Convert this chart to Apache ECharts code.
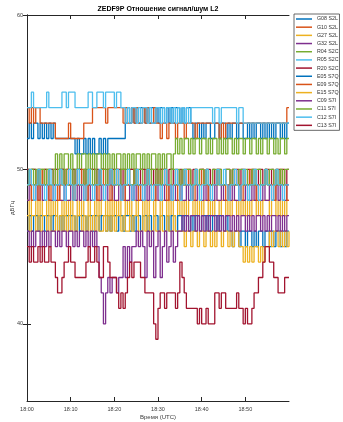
<!DOCTYPE html>
<html>
<head>
<meta charset="utf-8">
<script src="https://cdn.jsdelivr.net/npm/echarts@6/dist/echarts.min.js"></script>
<style>
  html, body { margin: 0; padding: 0; background: #fff; }
  #chart { width: 343px; height: 422px; }
</style>
</head>
<body>
<div id="chart"></div>
<script>
// C/N0 samples every 30 s from 18:00 UTC, dB-Hz
const startHour = 18;
const sampleStepMin = 0.5;

const seriesNames = ['G08 S2L', 'G10 S2L', 'G27 S2L', 'G32 S2L', 'R04 S2C', 'R05 S2C', 'R20 S2C',
                     'E05 S7Q', 'E09 S7Q', 'E15 S7Q', 'C09 S7I', 'C11 S7I', 'C12 S7I', 'C13 S7I'];

const g08 = [52,53,52,53,53,52,53,52,53,52, 53,52,53,52,52,52,52,52,52,52, 52,52,51,52,51,51,52,51,52,51,
             52,51,51,52,51,52,51,52,52,52, 52,52,52,52,52,53,54,53,54,53, 54,53,54,54,53,54,53,54,53,54,
             53,54,54,53,54,53,54,53,54,54, 53,54,53,54,54,53,52,53,53,52, 53,52,53,53,52,52,53,53,52,53,
             53,52,53,52,53,53,52,53,53,52, 52,53,52,53,52,53,53,52,53,52, 53,52,53,52,53,53,52,53,52,53, 53];
const g10 = [54,53,54,53,54,54,53,53,53,53, 53,53,53,52,52,52,52,52,52,53, 52,52,52,52,52,52,53,53,53,53,
             54,54,54,54,54,54,53,54,54,54, 54,54,54,54,53,54,53,53,54,53, 54,53,53,54,53,54,53,53,54,53,
             53,52,53,53,52,53,53,53,52,53, 53,53,52,53,53,53,53,52,53,53, 53,53,53,53,53,53,53,53,52,53,
             52,53,53,53,53,53,53,53,53,53, 53,53,53,53,53,53,53,53,53,53, 53,53,53,53,53,53,53,53,53,54, 54];
const g27 = [48,47,48,48,47,48,47,48,48,47, 48,47,48,47,48,48,47,48,47,48, 47,48,48,47,48,47,48,48,47,48,
             48,47,48,47,48,48,47,48,47,48, 47,48,47,48,48,47,48,47,48,48, 47,48,48,47,48,47,48,48,47,48,
             48,47,48,48,47,48,47,48,48,47, 48,47,48,47,48,48,47,48,47,48, 47,48,48,47,48,47,48,48,47,48,
             48,47,48,47,48,48,47,48,47,48, 47,48,47,48,48,47,48,47,48,48, 48,47,48,48,47,48,47,48,47,48, 48];
const g32 = [48,49,48,48,49,48,49,48,48,49, 48,48,49,48,49,48,48,49,48,48, 49,48,48,49,48,49,48,48,49,48,
             48,49,48,48,49,48,49,48,48,49, 48,48,49,48,49,48,48,49,48,49, 48,49,48,48,49,48,49,48,48,49,
             48,48,49,48,48,49,48,49,48,48, 49,48,48,49,48,49,48,48,49,48, 48,49,48,49,48,48,49,48,48,49,
             48,48,49,48,49,48,48,49,48,48, 49,48,48,49,48,49,48,48,49,48, 48,49,48,48,49,48,49,48,48,49, 49];
const r04 = [50,49,50,50,49,50,50,49,50,50, 50,50,50,51,50,51,50,51,51,50, 51,50,50,51,50,51,51,50,51,50,
             51,50,51,51,50,51,50,51,50,51, 50,51,51,50,51,50,51,50,51,50, 51,51,50,51,50,51,50,51,51,50,
             51,50,51,50,51,51,50,51,52,51, 52,51,52,52,51,52,51,52,52,51, 52,52,51,52,51,52,52,51,52,51,
             52,51,52,52,51,52,51,52,52,51, 52,52,51,52,52,51,52,51,52,52, 51,52,52,51,52,51,52,52,51,52, 52];
const r05 = [54,54,55,54,54,54,54,54,54,55, 54,54,54,54,54,54,55,55,54,55, 55,55,54,54,54,54,54,54,55,55,
             54,54,55,55,55,54,55,55,55,55, 54,55,55,54,54,53,54,53,54,54, 53,54,53,54,54,53,54,53,53,54,
             54,53,54,53,54,54,53,54,53,54, 53,54,53,54,53,54,54,54,54,54, 54,54,54,54,54,53,54,54,53,54,
             54,54,54,54,54,54,53,54,54,53, 53,53,53,53,53,53,53,53,53,53, 53,53,53,53,53,53,53,53,53,53, 53];
const r20 = [50,49,50,50,49,50,49,49,50,49, 50,50,49,50,49,50,50,49,50,49, 49,50,49,50,50,49,50,49,49,50,
             50,49,50,49,50,50,49,50,49,50, 49,50,50,49,50,49,49,50,50,49, 50,49,50,50,49,50,49,50,49,50,
             49,50,49,50,49,50,50,49,50,49, 50,49,50,49,50,49,50,50,49,50, 50,49,50,50,49,50,49,50,50,49,
             49,50,50,49,50,49,50,49,50,50, 49,50,49,50,50,49,50,50,49,50, 50,49,50,49,50,50,49,50,49,50, 50];
const e05 = [46,47,46,47,47,46,47,47,46,47, 47,46,47,47,46,47,46,47,47,46, 47,47,46,47,46,47,47,46,47,47,
             46,47,47,46,47,47,46,47,46,47, 47,46,47,47,46,47,47,46,47,46, 47,47,46,47,47,46,47,46,47,47,
             46,47,47,46,47,46,47,47,46,47, 47,46,47,47,46,47,46,47,47,46, 47,47,46,47,46,47,47,46,47,47,
             46,47,46,46,45,46,46,45,46,46, 45,46,46,45,46,45,46,46,45,46, 46,45,46,45,46,46,45,46,45,46, 46];
const e09 = [49,49,48,49,49,48,49,50,49,49, 48,49,49,49,48,49,49,49,50,49, 49,48,49,49,49,50,49,48,49,49,
             49,49,48,49,50,49,49,49,48,49, 49,50,49,49,48,49,49,49,49,50, 49,48,49,49,49,50,49,49,48,49,
             49,49,50,49,48,49,49,49,49,48, 49,49,49,50,49,49,48,49,49,49, 50,49,49,48,49,49,49,50,49,49,
             49,48,49,49,49,50,49,49,48,49, 49,49,50,49,49,48,49,49,49,50, 49,49,49,48,49,49,50,49,49,48, 48];
const e15 = [47,46,47,47,46,47,46,47,47,46, 47,46,46,47,46,47,46,47,46,47, 46,47,46,47,47,46,47,46,47,46,
             47,46,47,46,46,47,46,47,46,47, 46,47,47,46,47,46,46,47,46,47, 47,46,46,47,46,47,46,46,47,46,
             46,47,46,46,47,46,46,47,46,46, 46,46,45,46,46,45,46,46,45,46, 46,45,46,46,45,46,45,46,46,45,
             46,46,45,46,45,46,46,45,45,44, 45,44,45,44,45,45,44,45,44,45, 45,46,45,46,46,45,46,45,46,45, 46];
const c09 = [46,45,46,45,46,46,45,46,45,46, 45,46,46,45,46,45,46,46,45,46, 46,45,46,45,46,46,45,46,45,46,
             45,46,45,43,42,40,42,43,42,43, 43,42,43,43,45,43,45,44,45,45, 46,45,46,45,43,46,45,46,43,45,
             46,43,45,46,44,45,46,44,45,46, 46,47,46,47,46,47,47,46,47,46, 47,46,47,46,47,47,46,47,46,47,
             46,47,47,46,47,46,47,46,47,47, 46,47,46,47,46,47,47,46,47,46, 47,46,47,47,46,47,46,47,46,47, 47];
const c11 = [49,50,50,49,50,49,50,50,49,50, 49,49,50,49,50,50,49,50,49,49, 50,49,50,50,49,49,50,49,50,50,
             49,50,49,49,50,50,49,50,50,49, 50,49,49,50,50,49,50,49,49,50, 49,50,50,49,49,50,49,50,50,49,
             50,49,50,50,49,49,50,50,49,50, 49,50,49,50,50,49,49,50,49,50, 50,49,50,49,49,50,50,49,50,49,
             49,50,50,49,50,49,49,50,50,49, 50,49,49,50,49,50,50,49,49,50, 49,50,50,49,50,49,50,49,50,50, 50];
const c12 = [49,50,49,48,49,50,49,49,48,49, 50,49,48,49,49,50,49,48,49,50, 49,48,49,50,49,49,48,49,50,49,
             48,49,49,50,49,48,49,49,50,49, 49,50,49,48,49,49,50,49,48,49, 50,49,49,48,49,50,49,48,49,49,
             49,48,49,50,49,49,48,49,50,49, 48,49,50,49,49,48,49,50,49,48, 49,49,50,49,48,49,49,50,49,49,
             50,49,48,49,49,50,49,48,49,50, 49,48,49,49,50,49,48,49,49,50, 49,49,48,49,50,49,49,48,49,49, 49];
const c13 = [45,44,45,44,44,45,44,45,44,44, 45,44,44,43,42,42,43,44,44,45, 44,44,43,43,43,43,43,44,45,44,
             44,45,44,43,43,45,45,44,43,43, 43,42,41,42,41,42,43,44,43,44, 44,44,43,43,42,42,42,42,40,39,
             41,42,42,41,42,42,42,42,41,42, 44,43,42,41,41,41,41,41,40,41, 40,40,41,40,40,40,42,42,41,42,
             42,41,41,41,41,41,42,41,41,40, 41,40,40,41,42,42,43,43,44,45, 45,44,44,43,43,42,42,42,43,43, 43];

const seriesValues = [g08, g10, g27, g32, r04, r05, r20, e05, e09, e15, c09, c11, c12, c13];

const palette = ['#0072BD', '#D95319', '#EDB120', '#7E2F8E', '#77AC30', '#4DBEEE', '#A2142F'];

const xTickMinutes = [0, 10, 20, 30, 40, 50];
const yTicks = [40, 50, 60];

const axisColor = '#262626';
const labelColor = '#3a3a3a';
const fontFamily = 'Liberation Sans, Arial, sans-serif';

const chart = echarts.init(document.getElementById('chart'), null, { renderer: 'canvas' });

const series = seriesNames.map((name, k) => ({
  name,
  type: 'line',
  step: 'end',
  symbol: 'none',
  animation: false,
  lineStyle: { width: 1.3, color: palette[k % palette.length] },
  itemStyle: { color: palette[k % palette.length] },
  data: seriesValues[k].map((v, i) => [i * sampleStepMin, v])
}));

const fmtTime = v => {
  const m = Math.round(v);
  return startHour + ':' + (m < 10 ? '0' + m : String(m));
};

chart.setOption({
  animation: false,
  color: palette,
  textStyle: { fontFamily },
  title: {
    text: 'ZEDF9P Отношение сигнал/шум L2',
    left: 158,
    textAlign: 'center',
    top: 6,
    padding: 0,
    textStyle: { fontSize: 7, fontWeight: 'bold', color: '#000', fontFamily }
  },
  legend: {
    orient: 'vertical',
    left: 294,
    top: 14,
    padding: [2, 1, 2, 2],
    icon: 'rect',
    itemWidth: 16,
    itemHeight: 1.5,
    itemGap: 2.18,
    borderColor: '#444',
    borderWidth: 0.8,
    backgroundColor: '#fff',
    data: seriesNames,
    textStyle: { fontSize: 5.3, lineHeight: 6, color: '#333', fontFamily }
  },
  grid: { left: 27, top: 15, width: 262, height: 386, containLabel: false, outerBoundsMode: 'none' },
  xAxis: [
    {
      type: 'value', min: 0, max: 60, interval: 10,
      name: 'Время (UTC)', nameLocation: 'middle', nameGap: 13, nameMoveOverlap: false,
      nameTextStyle: { fontSize: 6, color: labelColor, fontFamily },
      axisLine: { show: true, lineStyle: { color: axisColor, width: 1 } },
      axisTick: { show: true, inside: true, length: 4, lineStyle: { color: axisColor }, customValues: xTickMinutes },
      axisLabel: { fontSize: 5.5, color: labelColor, margin: 5, customValues: xTickMinutes, formatter: fmtTime },
      splitLine: { show: false }
    },
    {
      type: 'value', min: 0, max: 60, interval: 10, position: 'top',
      axisLine: { show: true, lineStyle: { color: axisColor, width: 1 } },
      axisTick: { show: true, inside: true, length: 4, lineStyle: { color: axisColor }, customValues: xTickMinutes },
      axisLabel: { show: false },
      splitLine: { show: false }
    }
  ],
  yAxis: [
    {
      type: 'value', min: 35, max: 60,
      name: 'дБГц', nameLocation: 'middle', nameGap: 12, nameRotate: 90, nameMoveOverlap: false,
      nameTextStyle: { fontSize: 6, color: labelColor, fontFamily },
      axisLine: { show: true, lineStyle: { color: axisColor, width: 1 } },
      axisTick: { show: true, inside: true, length: 4, lineStyle: { color: axisColor }, customValues: yTicks },
      axisLabel: { fontSize: 5.5, color: labelColor, margin: 4, customValues: yTicks },
      splitLine: { show: false }
    },
    {
      type: 'value', min: 35, max: 60, position: 'right',
      axisLine: { show: true, lineStyle: { color: axisColor, width: 1 } },
      axisTick: { show: true, inside: true, length: 4, lineStyle: { color: axisColor }, customValues: yTicks },
      axisLabel: { show: false },
      splitLine: { show: false }
    }
  ],
  series
});
</script>
</body>
</html>
